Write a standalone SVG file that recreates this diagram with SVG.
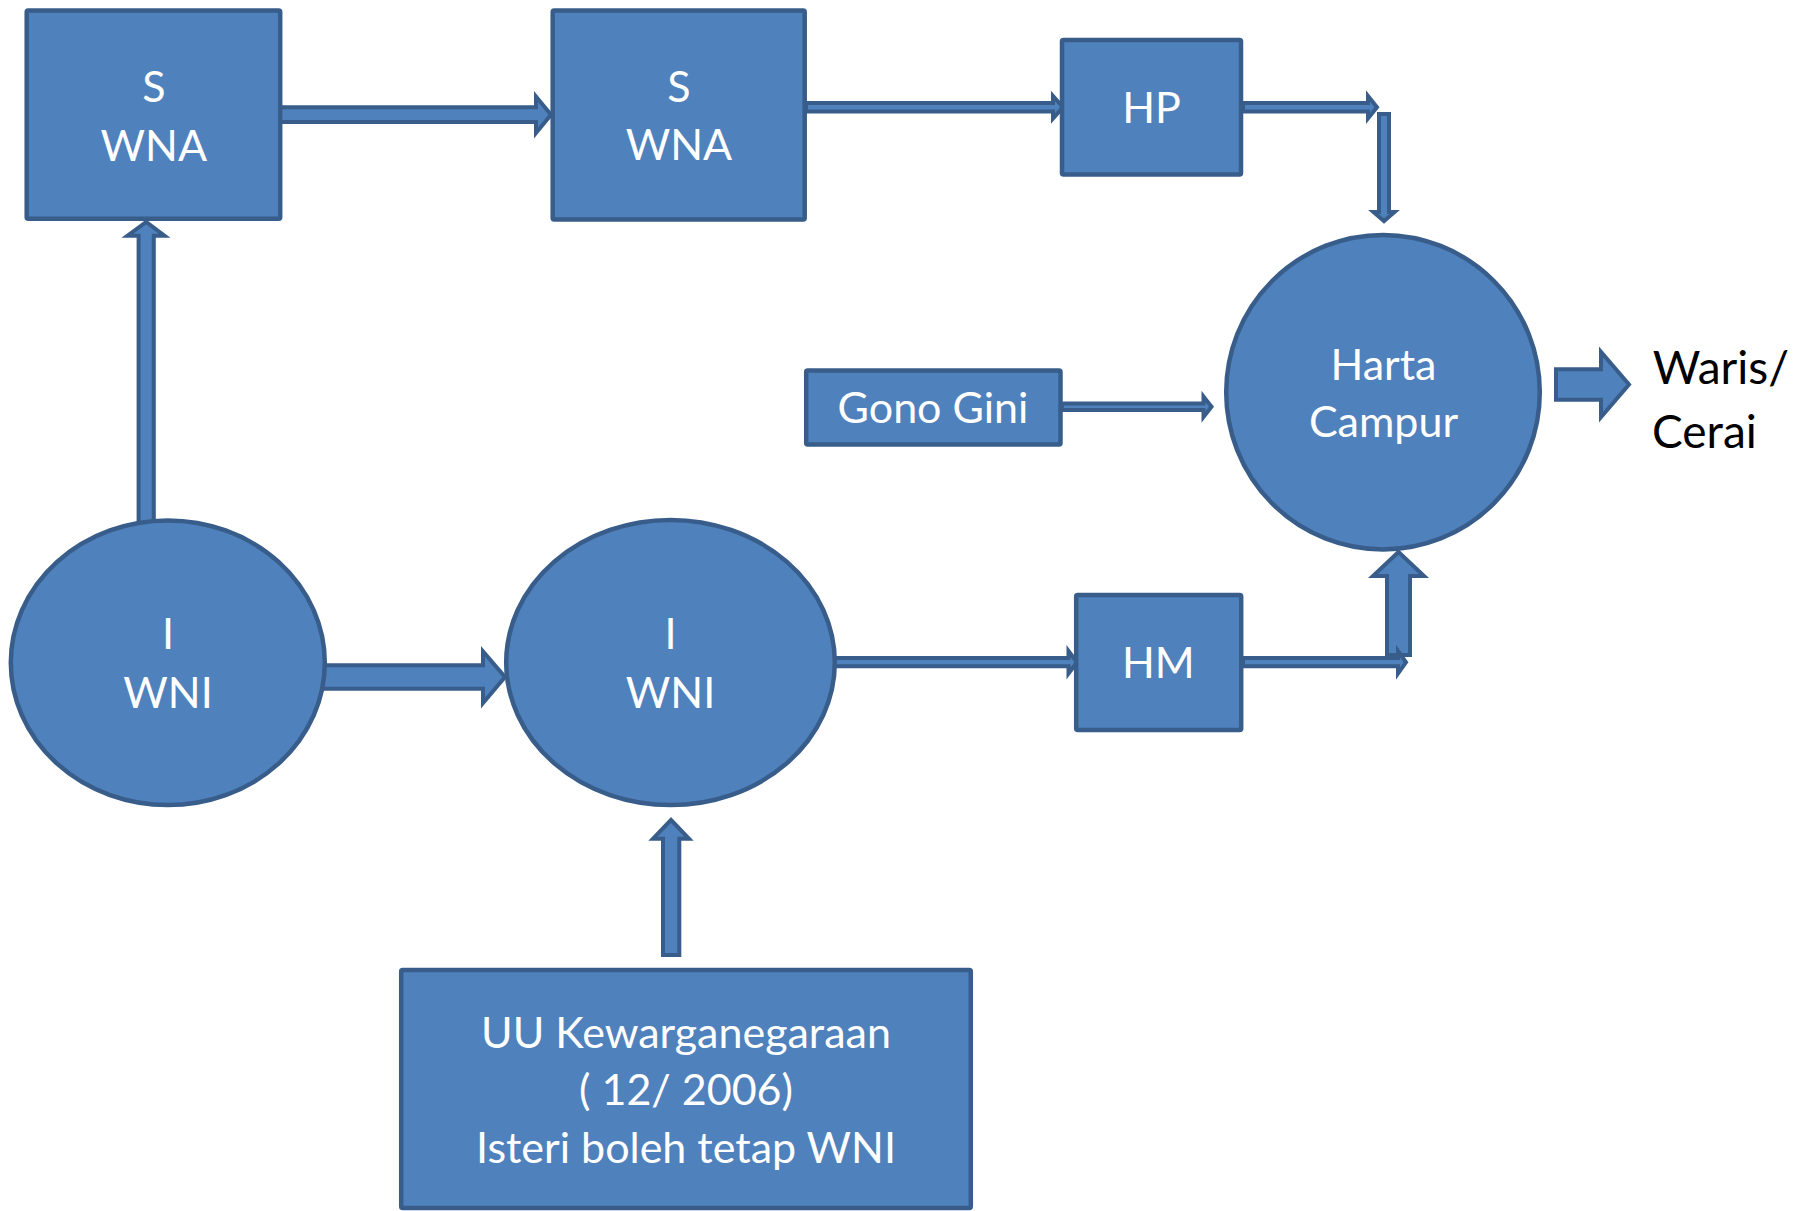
<svg xmlns="http://www.w3.org/2000/svg" width="1796" height="1211" viewBox="0 0 1796 1211">
<style>
.n{fill:#4F81BD;stroke:#385D8A;stroke-width:4.5}
.a{fill:#4F81BD;stroke:#385D8A;stroke-width:4;stroke-linejoin:miter}
.t{font-family:Lato,"Open Sans","Liberation Sans",sans-serif;font-size:43px;fill:#FFFFFF;text-anchor:middle}
.b{font-family:Lato,"Open Sans","Liberation Sans",sans-serif;font-size:46px;fill:#000000}
</style>
<rect width="1796" height="1211" fill="#FFFFFF"/>
<g id="connectors">
<polygon class="a" points="280,107.3 536,107.3 536,96.5 551,114.7 536,133 536,122 280,122"/>
<polygon class="a" points="806,103 1053,103 1053,96 1063,107.2 1053,118.4 1053,111.4 806,111.4"/>
<polygon class="a" points="1243,103 1368,103 1368,96 1377,107.2 1368,118.4 1368,111.4 1243,111.4"/>
<polygon class="a" points="1379,114 1389,114 1389,212 1394.5,212 1384,221 1373.5,212 1379,212"/>
<polygon class="a" points="1062,403.5 1203.5,403.5 1203.5,396.5 1211.5,406.7 1203.5,417 1203.5,410 1062,410"/>
<polygon class="a" points="1556,369.3 1601,369.3 1601,352 1629,384.5 1601,417 1601,399.7 1556,399.7"/>
<polygon class="a" points="138.6,530 138.6,235.7 127.5,235.7 146.2,222 164.5,235.7 153.8,235.7 153.8,530"/>
<polygon class="a" points="320,665.3 483,665.3 483,651.5 505,677 483,703 483,688.7 320,688.7"/>
<polygon class="a" points="830,658 1068.5,658 1068.5,651 1077,662.3 1068.5,673.5 1068.5,666.3 830,666.3"/>
<polygon class="a" points="1387,655 1387,576 1373,576 1398.5,552 1424,576 1410,576 1410,655"/>
<polygon class="a" points="1243,658 1398,658 1398,651 1406,662.3 1398,673.5 1398,666.3 1243,666.3"/>
<polygon class="a" points="663,955 663,838.7 653,838.7 671,820 689,838.7 679.3,838.7 679.3,955"/>
</g>
<g id="s-wna-1">
<rect class="n" x="26.7" y="10.5" width="253.5" height="208.3" rx="1.5"/>
<text class="t" x="153.8" y="101.7">S</text>
<text class="t" x="153.8" y="161">WNA</text>
</g>
<g id="s-wna-2">
<rect class="n" x="552.7" y="10.5" width="252" height="209" rx="1.5"/>
<text class="t" x="679" y="101.7">S</text>
<text class="t" x="679" y="160">WNA</text>
</g>
<g id="hp">
<rect class="n" x="1062" y="40" width="179" height="134.5" rx="1.5"/>
<text class="t" x="1151.6" y="123.3">HP</text>
</g>
<g id="gono-gini">
<rect class="n" x="806.2" y="370.5" width="254.3" height="74" rx="1.5"/>
<text class="t" x="933" y="423.3">Gono Gini</text>
</g>
<g id="harta-campur">
<ellipse class="n" cx="1383" cy="392.2" rx="156.8" ry="157.3"/>
<text class="t" x="1383.5" y="380">Harta</text>
<text class="t" x="1383.5" y="437">Campur</text>
</g>
<g id="i-wni-1">
<ellipse class="n" cx="167.8" cy="662.8" rx="157" ry="142.3"/>
<text class="t" x="168" y="649.3">I</text>
<text class="t" x="168" y="707.7">WNI</text>
</g>
<g id="i-wni-2">
<ellipse class="n" cx="670.5" cy="662.5" rx="164.3" ry="142.6"/>
<text class="t" x="670.5" y="649.3">I</text>
<text class="t" x="670.5" y="707.7">WNI</text>
</g>
<g id="hm">
<rect class="n" x="1076.2" y="595" width="165" height="135" rx="1.5"/>
<text class="t" x="1158.3" y="678.3">HM</text>
</g>
<g id="uu">
<rect class="n" x="401.2" y="970" width="569.6" height="238" rx="1.5"/>
<text class="t" x="686" y="1048.3">UU Kewarganegaraan</text>
<text class="t" x="686" y="1105">( 12/ 2006)</text>
<text class="t" x="686" y="1163.3">Isteri boleh tetap WNI</text>
</g>
<g id="waris-cerai">
<text class="b" x="1652.7" y="384.3">Waris/</text>
<text class="b" x="1652" y="448.3">Cerai</text>
</g>
</svg>
